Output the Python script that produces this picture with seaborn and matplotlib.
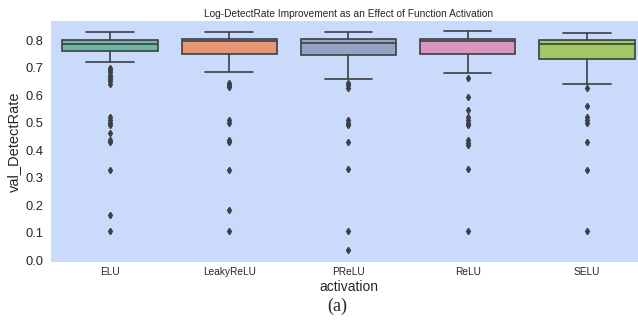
import numpy as np
import pandas as pd
import seaborn as sns
import matplotlib
matplotlib.use("Agg")
import matplotlib.pyplot as plt

# Activation functions compared
activations = ["ELU", "LeakyReLU", "PReLU", "ReLU", "SELU"]

# Box summaries per activation: lower whisker, Q1, median, Q3, upper whisker
elu_box = [0.719, 0.762, 0.785, 0.801, 0.830]
leaky_box = [0.685, 0.751, 0.795, 0.804, 0.830]
prelu_box = [0.660, 0.746, 0.788, 0.805, 0.830]
relu_box = [0.681, 0.751, 0.796, 0.804, 0.834]
selu_box = [0.642, 0.732, 0.784, 0.800, 0.824]

# Runs falling outside the whiskers
elu_out = [0.700, 0.692, 0.683, 0.674, 0.665, 0.658, 0.650, 0.642,
           0.520, 0.510, 0.500, 0.492, 0.461, 0.435, 0.428, 0.327, 0.164, 0.105]
leaky_out = [0.645, 0.636, 0.630, 0.510, 0.500, 0.435, 0.428, 0.327, 0.182, 0.105]
prelu_out = [0.645, 0.635, 0.625, 0.510, 0.500, 0.490, 0.430, 0.330, 0.107, 0.036]
relu_out = [0.661, 0.592, 0.545, 0.520, 0.510, 0.500, 0.490,
            0.435, 0.425, 0.418, 0.330, 0.107]
selu_out = [0.624, 0.560, 0.520, 0.510, 0.500, 0.428, 0.327, 0.107]

boxes = [elu_box, leaky_box, prelu_box, relu_box, selu_box]
outliers = [elu_out, leaky_out, prelu_out, relu_out, selu_out]


def runs_for(box, out, k=30):
    """Expand a five-number summary plus outliers into a run list whose
    linear-interpolated quartiles equal the summary values."""
    lo, q1, med, q3, hi = box
    low = sorted(out) + [lo]
    vals = low + [q1] * (k + 1 - len(low)) + [med] * k + [q3] * k + [hi] * k
    return vals


rows = []
for name, box, out in zip(activations, boxes, outliers):
    for v in runs_for(box, out):
        rows.append((name, v))
df = pd.DataFrame(rows, columns=["activation", "val_DetectRate"])

sns.set_theme(style="dark", rc={"axes.facecolor": "#cadafb"})
plt.rcParams["font.family"] = ["Liberation Sans", "DejaVu Sans"]

fig = plt.figure(figsize=(6.38, 3.25), dpi=100)
ax = fig.add_axes([0.0792, 0.194, 0.934, 0.741])

line = "#3d3f45"
sns.boxplot(data=df, x="activation", y="val_DetectRate", order=activations,
            hue="activation", hue_order=activations, palette="Set2",
            legend=False, width=0.8, linewidth=1.2, linecolor=line,
            flierprops=dict(marker="d", markersize=3.2, markerfacecolor=line,
                            markeredgecolor=line), ax=ax)

ax.set_ylim(-0.007, 0.869)
ticks = np.arange(0, 0.81, 0.1)
ax.set_yticks(ticks)
ax.set_yticklabels([f"{t:.1f}" for t in ticks], fontsize=9.3)
ax.tick_params(axis="x", labelsize=7.3, length=0, pad=3.5)
ax.tick_params(axis="y", length=0, pad=5)
ax.set_title("Log-DetectRate Improvement as an Effect of Function Activation",
             fontsize=7.3, pad=3)
ax.set_xlabel("activation", fontsize=10, labelpad=2)
ax.set_ylabel("val_DetectRate", fontsize=10.5, labelpad=3)
for s in ax.spines.values():
    s.set_visible(False)

fig.text(0.528, 0.056, "(a)", fontsize=13, ha="center", va="center",
         family=["Liberation Serif", "DejaVu Serif"])

fig.savefig("out.png", dpi=100, facecolor="white")
